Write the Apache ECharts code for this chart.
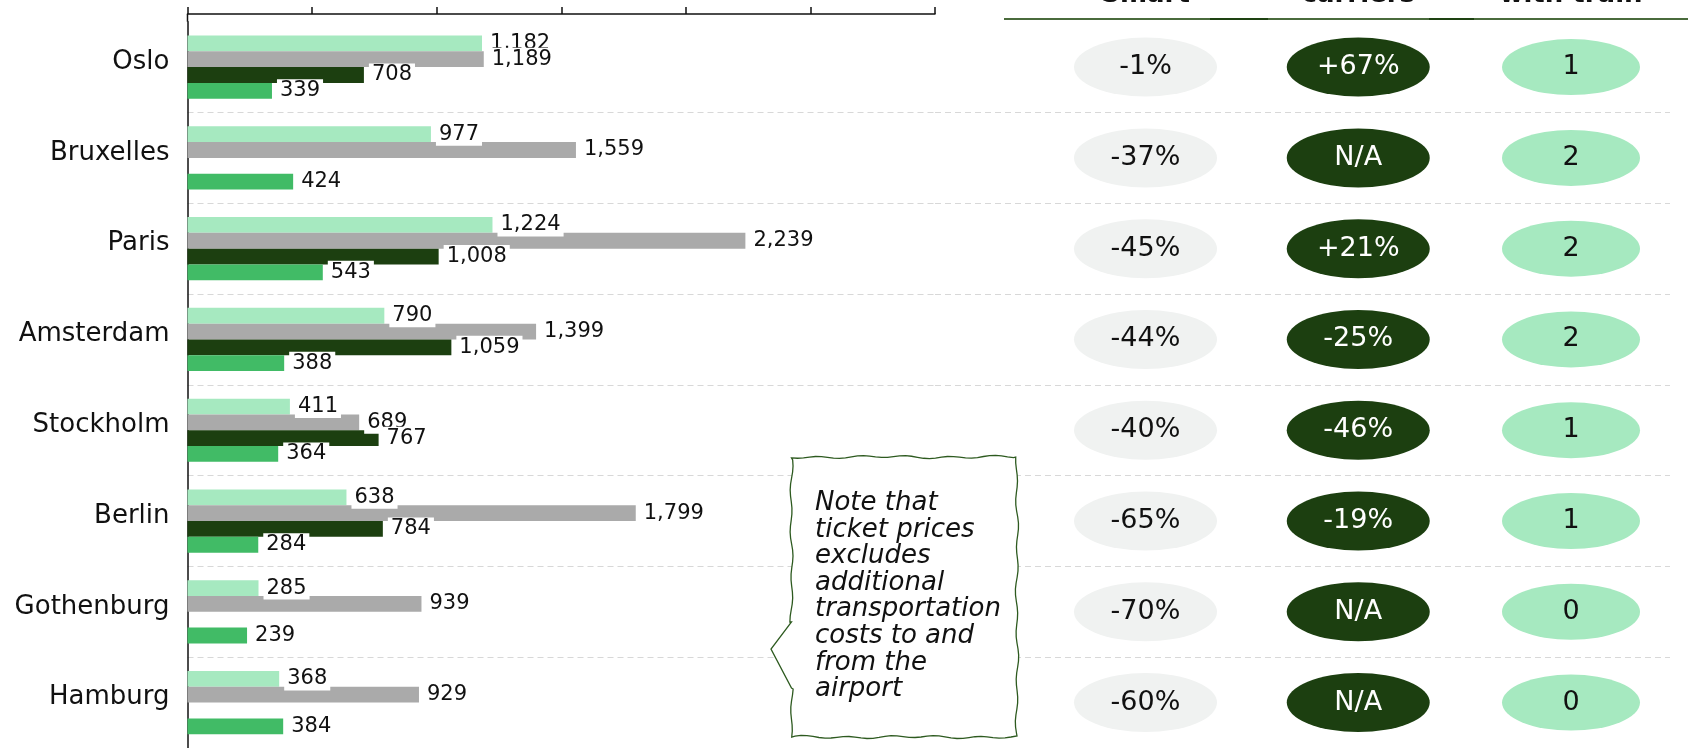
<!DOCTYPE html>
<html>
<head>
<meta charset="utf-8">
<script src="https://cdn.jsdelivr.net/npm/echarts@6/dist/echarts.min.js"></script>
<style>
  html, body { margin: 0; padding: 0; background: #ffffff; }
  #chart { width: 1688px; height: 748px; }
</style>
</head>
<body>
<div id="chart"></div>
<script>
// ---- data -------------------------------------------------------------
const cities = ['Oslo', 'Bruxelles', 'Paris', 'Amsterdam', 'Stockholm', 'Berlin', 'Gothenburg', 'Hamburg'];
const fareA = [1182, 977, 1224, 790, 411, 638, 285, 368];
const fareB = [1189, 1559, 2239, 1399, 689, 1799, 939, 929];
const fareC = [708, null, 1008, 1059, 767, 784, null, null];
const fareD = [339, 424, 543, 388, 364, 284, 239, 384];

const columnHeaders = ['Smart', 'carriers', 'with train'];
const diffSmart = ['-1%', '-37%', '-45%', '-44%', '-40%', '-65%', '-70%', '-60%'];
const diffCarriers = ['+67%', 'N/A', '+21%', '-25%', '-46%', '-19%', 'N/A', 'N/A'];
const withTrain = ['1', '2', '2', '2', '1', '1', '0', '0'];

const noteLines = ['Note that', 'ticket prices', 'excludes', 'additional', 'transportation', 'costs to and', 'from the', 'airport'];

// ---- layout -----------------------------------------------------------
const FONT = '"DejaVu Sans", Verdana, sans-serif';
const GRID_TOP = 21.7;
const BAND = 91.3;
const GRID_H = BAND * cities.length;
const BAR_W = 15.8;

const ELLIPSE = 'path://M0,50A50,50,0,1,1,100,50A50,50,0,1,1,0,50Z';
const fmt = v => Number(v).toLocaleString('en-US');

const dashed = {
  show: true,
  interval: (i) => i !== 0,
  lineStyle: { color: '#d8d8d8', type: [6, 4], width: 1.2 }
};

function barSeries(name, values, color) {
  return {
    name, type: 'bar', xAxisIndex: 0, yAxisIndex: 0,
    data: values.map(v => (v == null ? '-' : v)),
    barWidth: BAR_W, barGap: '0%',
    itemStyle: { color },
    label: {
      show: true, position: 'right', distance: 5,
      formatter: p => fmt(p.value),
      fontFamily: FONT, fontSize: 21, color: '#111',
      backgroundColor: '#ffffff', padding: [1, 3]
    },
    emphasis: { disabled: true },
    z: 2
  };
}

function pillSeries(col, texts, fill, textColor, size) {
  return {
    type: 'scatter', xAxisIndex: 1, yAxisIndex: 1,
    data: cities.map(c => [col, c]),
    symbol: ELLIPSE, symbolSize: size,
    itemStyle: { color: fill, opacity: 1 },
    label: {
      show: true, position: 'inside',
      formatter: p => texts[p.dataIndex],
      fontFamily: FONT, fontSize: 27, color: textColor
    },
    emphasis: { disabled: true },
    z: 3
  };
}

const chart = echarts.init(document.getElementById('chart'), null, { renderer: 'canvas' });

chart.setOption({
  animation: false,
  backgroundColor: '#ffffff',
  grid: [
    { left: 187.5, top: GRID_TOP, width: 747.5, height: GRID_H },
    { left: 935, top: GRID_TOP, width: 735, height: GRID_H }
  ],
  xAxis: [
    {
      gridIndex: 0, type: 'value', min: 0, max: 3000, interval: 500,
      position: 'top', offset: 7.7,
      axisLine: { show: true, lineStyle: { color: '#111', width: 1.5 } },
      axisTick: { show: true, length: 7, lineStyle: { color: '#111', width: 1.5 } },
      axisLabel: { show: false },
      splitLine: { show: false }
    },
    {
      gridIndex: 1, type: 'value', min: -0.9894, max: 2.4653, show: false
    }
  ],
  yAxis: [
    {
      gridIndex: 0, type: 'category', data: cities, inverse: true,
      axisLine: { show: true, lineStyle: { color: '#111', width: 1.5 } },
      axisTick: { show: false },
      axisLabel: {
        fontFamily: FONT, fontSize: 26, color: '#111', margin: 18,
        verticalAlign: 'bottom', lineHeight: 10
      },
      splitLine: dashed
    },
    {
      gridIndex: 1, type: 'category', data: cities, inverse: true,
      axisLine: { show: false }, axisTick: { show: false }, axisLabel: { show: false },
      splitLine: dashed
    }
  ],
  series: [
    barSeries('Fare A', fareA, '#a6e9c0'),
    barSeries('Fare B', fareB, '#aaaaaa'),
    barSeries('Fare C', fareC, '#1c3f10'),
    barSeries('Fare D', fareD, '#41bb66'),
    pillSeries(0, diffSmart, '#f0f2f1', '#111', [143, 59]),
    pillSeries(1, diffCarriers, '#1c3f10', '#ffffff', [143, 59]),
    pillSeries(2, withTrain, '#a6e9c0', '#111', [138, 56])
  ]
});

// ---- decorations: column headers, header rule, axis corner, note box --
function wobble(t, seed) {
  return 1.1 * Math.sin(t / 7 + seed) + 0.6 * Math.sin(t / 19 + seed * 2.3);
}

function noteOutline(x0, y0, x1, y1, tipX, tipY, nTop, nBot) {
  const pts = [];
  const step = 6;
  for (let x = x0; x <= x1; x += step) pts.push([x, y0 + wobble(x, 1)]);
  for (let y = y0; y <= y1; y += step) pts.push([x1 + wobble(y, 2), y]);
  for (let x = x1; x >= x0; x -= step) pts.push([x, y1 + wobble(x, 3)]);
  for (let y = y1; y >= nBot; y -= step) pts.push([x0 + wobble(y, 4), y]);
  pts.push([x0, nBot]);
  pts.push([tipX, tipY]);
  pts.push([x0, nTop]);
  for (let y = nTop; y >= y0; y -= step) pts.push([x0 + wobble(y, 4), y]);
  return pts;
}

const headerTexts = columnHeaders.map((h, j) => {
  const x = chart.convertToPixel({ xAxisIndex: 1 }, j);
  return {
    type: 'text', x: x, y: -5, z: 10,
    style: {
      text: h, fontFamily: FONT, fontSize: 26, fontWeight: 'bold', fill: '#111',
      align: 'center', verticalAlign: 'middle'
    }
  };
});

chart.setOption({
  graphic: [
    ...headerTexts,
    {
      type: 'line', z: 10,
      shape: { x1: 1004, y1: 19, x2: 1688, y2: 19 },
      style: { stroke: '#4a6b3c', lineWidth: 2 }
    },
    {
      type: 'line', z: 11,
      shape: { x1: 1210, y1: 19, x2: 1268, y2: 19 },
      style: { stroke: '#1e4212', lineWidth: 2 }
    },
    {
      type: 'line', z: 11,
      shape: { x1: 1429, y1: 19, x2: 1474, y2: 19 },
      style: { stroke: '#1e4212', lineWidth: 2 }
    },
    {
      type: 'line', z: 10,
      shape: { x1: 187.5, y1: 14, x2: 187.5, y2: GRID_TOP },
      style: { stroke: '#111', lineWidth: 1.5 }
    },
    {
      type: 'polygon', z: 20,
      shape: { points: noteOutline(791.5, 457, 1017, 737, 771, 649, 622, 688) },
      style: { fill: '#ffffff', stroke: '#2d5a1f', lineWidth: 1.3 }
    },
    {
      type: 'text', z: 21, x: 815, y: 490,
      style: {
        text: noteLines.join('\n'),
        fontFamily: FONT, fontSize: 26, fontStyle: 'italic',
        lineHeight: 26.6, fill: '#111', align: 'left', verticalAlign: 'top'
      }
    }
  ]
});
</script>
</body>
</html>
